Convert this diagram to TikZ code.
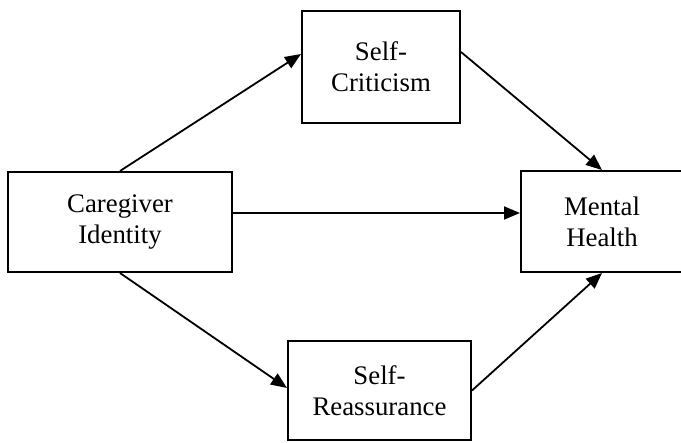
\documentclass[tikz,border=0pt]{standalone}
\usepackage{fontspec}
\setmainfont{Liberation Serif}
\usetikzlibrary{arrows.meta}
\begin{document}
\begin{tikzpicture}[x=1pt,y=-1pt,
  box/.style={draw=black,line width=2pt,align=center,inner sep=0pt,
    font=\fontsize{26.8}{31}\selectfont},
  arr/.style={line width=1.8pt,-{Triangle[length=16pt,width=13pt]}}]
\useasboundingbox (0,0) rectangle (681,443);
\node[box,minimum width=224pt,minimum height=100pt] (cg) at (120,222) {Caregiver\\Identity};
\node[box,minimum width=158pt,minimum height=112pt] (sc) at (381,67) {Self-\\Criticism};
\node[box,minimum width=162pt,minimum height=101pt] (mh) at (602,221.5) {Mental\\Health};
\node[box,minimum width=183pt,minimum height=99pt] (sr) at (379.5,390.5) {Self-\\Reassurance};
\draw[arr] (cg.north) -- ([yshift=13pt]sc.west);
\draw[arr] ([yshift=15pt]sc.east) -- (mh.north);
\draw[arr] ([yshift=9pt]cg.east) -- ([yshift=8.5pt]mh.west);
\draw[arr] (cg.south) -- ([yshift=2.5pt]sr.west);
\draw[arr] (sr.east) -- (mh.south);
\end{tikzpicture}
\end{document}
